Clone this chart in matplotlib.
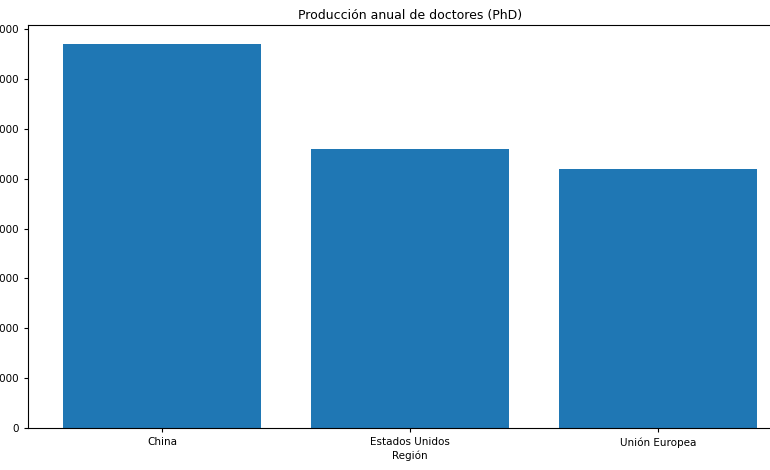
import matplotlib
matplotlib.use("Agg")
import matplotlib.pyplot as plt

plt.rcParams["font.size"] = 7.5

regions = ["China", "Estados Unidos", "Unión Europea"]
phds = [77000, 56000, 52000]

fig = plt.figure(figsize=(7.7, 4.7), dpi=100)
ax = fig.add_axes([28/770, 1-428/470, (792-28)/770, (428-25)/470])
ax.bar(regions, phds, color="#1f77b4", width=0.8)
ax.set_xlim(-0.54, 2.54)
ax.set_ylim(0, 80850)
ax.set_title("Producción anual de doctores (PhD)", fontsize=9, pad=4)
ax.set_xlabel("Región", labelpad=2)
ax.tick_params(length=3)
fig.savefig("out.png", dpi=100)
